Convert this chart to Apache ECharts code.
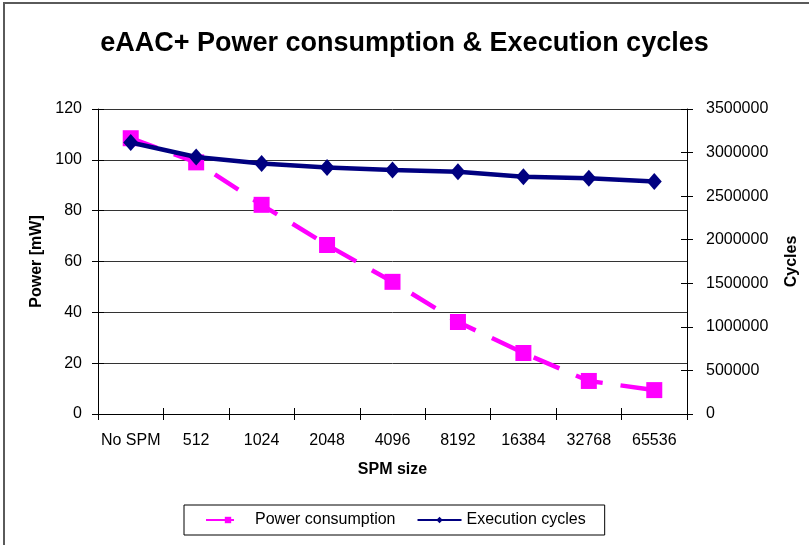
<!DOCTYPE html>
<html>
<head>
<meta charset="utf-8">
<script src="https://cdn.jsdelivr.net/npm/echarts@6/dist/echarts.min.js"></script>
<style>
  html, body { margin: 0; padding: 0; background: #fff; }
  #chart { width: 809px; height: 545px; }
</style>
</head>
<body>
<div id="chart"></div>
<script>
// SPM sizes on the category axis
const spmSizes = ['No SPM', '512', '1024', '2048', '4096', '8192', '16384', '32768', '65536'];
// Power consumption in mW (left axis)
const powerMW = [108.5, 99, 82.3, 66.5, 52, 36.2, 24, 13, 9.4];
// Execution cycles (right axis)
const execCycles = [3115000, 2950000, 2875000, 2830000, 2800000, 2780000, 2722000, 2705000, 2667000];

const font = '"Liberation Sans", Arial, sans-serif';
const axisColor = '#000';
const chart = echarts.init(document.getElementById('chart'));

// plain tick labels (no thousands separators)
const plain = v => String(v);

chart.setOption({
  animation: false,
  backgroundColor: '#fff',
  title: {
    text: 'eAAC+ Power consumption & Execution cycles',
    left: 'center',
    top: 25,
    textStyle: { fontFamily: font, fontSize: 27, fontWeight: 'bold', color: '#000' }
  },
  graphic: [{
    type: 'rect',
    shape: { x: 4, y: 3, width: 820, height: 560 },
    style: { fill: 'none', stroke: '#5a5a5a', lineWidth: 2 },
    silent: true
  }],
  legend: {
    bottom: 10,
    left: 184,
    padding: [7, 19, 7, 21],
    itemGap: 21,
    itemWidth: 44,
    itemHeight: 8,
    borderColor: '#000',
    borderWidth: 1,
    textStyle: { fontFamily: font, fontSize: 16, color: '#000' },
    data: ['Power consumption', 'Execution cycles']
  },
  grid: { left: 98, right: 122, top: 109, bottom: 131, containLabel: false },
  xAxis: [{
    type: 'category',
    data: spmSizes,
    position: 'bottom',
    name: 'SPM size',
    nameLocation: 'middle',
    nameGap: 48,
    nameTextStyle: { fontFamily: font, fontSize: 16, fontWeight: 'bold', color: '#000' },
    axisLine: { lineStyle: { color: axisColor, width: 1 } },
    axisTick: { show: true, length: 6, lineStyle: { color: axisColor } },
    axisLabel: { fontFamily: font, fontSize: 16, color: '#000', margin: 19, interval: 0 },
    splitLine: { show: false }
  }, {
    // inner half of the crossing ticks
    type: 'category',
    data: spmSizes,
    position: 'bottom',
    axisLine: { show: false },
    axisTick: { show: true, inside: true, length: 6, lineStyle: { color: axisColor } },
    axisLabel: { show: false },
    splitLine: { show: false }
  }],
  yAxis: [{
    type: 'value',
    min: 0, max: 120, interval: 20,
    name: 'Power [mW]',
    nameLocation: 'middle',
    nameGap: 49,
    nameRotate: 90,
    nameTextStyle: { fontFamily: font, fontSize: 16, fontWeight: 'bold', color: '#000' },
    axisLine: { show: true, lineStyle: { color: axisColor } },
    axisTick: { show: true, length: 6, lineStyle: { color: axisColor } },
    axisLabel: { fontFamily: font, fontSize: 16, color: '#000', margin: 16 },
    splitLine: { show: true, lineStyle: { color: '#333', width: 1 } }
  }, {
    type: 'value',
    min: 0, max: 3500000, interval: 500000,
    position: 'right',
    name: 'Cycles',
    nameLocation: 'middle',
    nameGap: 97,
    nameRotate: 90,
    nameTextStyle: { fontFamily: font, fontSize: 16, fontWeight: 'bold', color: '#000' },
    axisLine: { show: true, lineStyle: { color: axisColor } },
    axisTick: { show: true, length: 6, lineStyle: { color: axisColor } },
    axisLabel: { fontFamily: font, fontSize: 16, color: '#000', margin: 19, formatter: plain },
    splitLine: { show: false }
  }, {
    type: 'value',
    min: 0, max: 120, interval: 20,
    position: 'left',
    axisLine: { show: false },
    axisTick: { show: true, inside: true, length: 6, lineStyle: { color: axisColor } },
    axisLabel: { show: false },
    splitLine: { show: false }
  }, {
    type: 'value',
    min: 0, max: 3500000, interval: 500000,
    position: 'right',
    axisLine: { show: false },
    axisTick: { show: true, inside: true, length: 6, lineStyle: { color: axisColor } },
    axisLabel: { show: false },
    splitLine: { show: false }
  }],
  series: [{
    name: 'Power consumption',
    type: 'line',
    yAxisIndex: 0,
    data: powerMW,
    symbol: 'rect',
    symbolSize: 16,
    color: '#ff00ff',
    itemStyle: { color: '#ff00ff' },
    lineStyle: { color: '#ff00ff', width: 4.5, type: [28, 18] },
    z: 2
  }, {
    name: 'Execution cycles',
    type: 'line',
    yAxisIndex: 1,
    data: execCycles,
    symbol: 'diamond',
    symbolSize: [15, 17],
    color: '#000080',
    itemStyle: { color: '#000080' },
    lineStyle: { color: '#000080', width: 4.5 },
    z: 3
  }]
});
</script>
</body>
</html>
